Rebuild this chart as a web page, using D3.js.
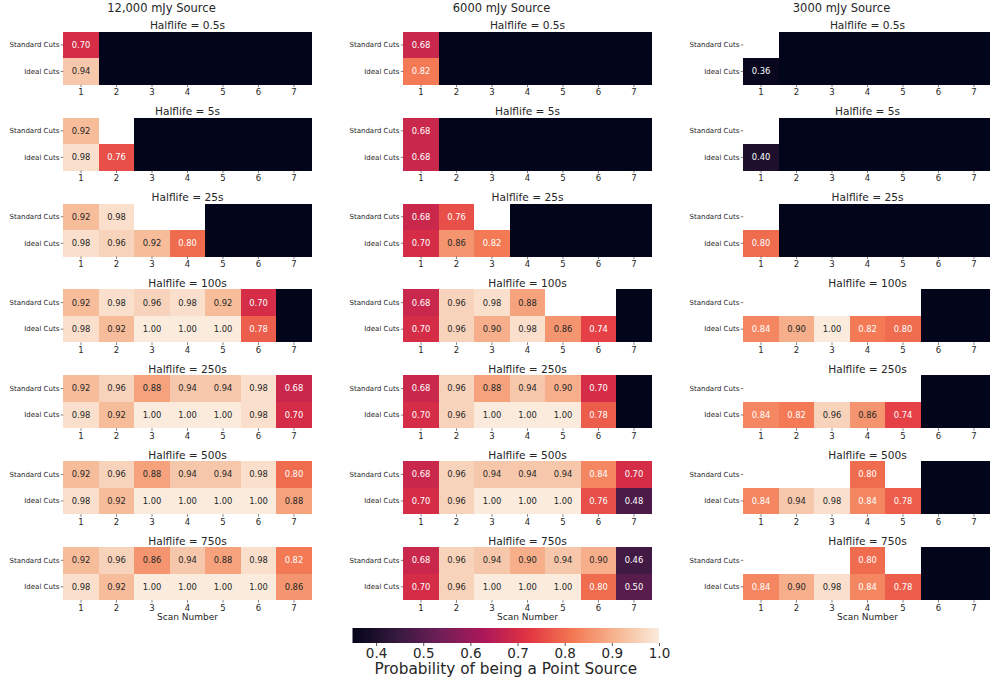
<!DOCTYPE html>
<html><head><meta charset="utf-8">
<script src="https://cdn.jsdelivr.net/npm/d3@7"></script>
<style>body{margin:0;background:#fff}svg{display:block;font-family:"DejaVu Sans",sans-serif}</style>
</head><body><svg id="chart" width="990" height="685"></svg>
<script>
// ---------- data ----------
const scans = [1, 2, 3, 4, 5, 6, 7];
const cutLabels = ["Standard Cuts", "Ideal Cuts"];
const halflives = ["0.5s", "5s", "25s", "100s", "250s", "500s", "750s"];
const sources = ["12,000 mJy Source", "6000 mJy Source", "3000 mJy Source"];
const cbTicks = [0.4, 0.5, 0.6, 0.7, 0.8, 0.9, 1.0];
const vmin = 0.35, vmax = 1.0;
// null = no value (blank), 0 = no detection (darkest colour)
const src12000Std = [
  [0.70, 0, 0, 0, 0, 0, 0],
  [0.92, null, 0, 0, 0, 0, 0],
  [0.92, 0.98, null, null, 0, 0, 0],
  [0.92, 0.98, 0.96, 0.98, 0.92, 0.70, 0],
  [0.92, 0.96, 0.88, 0.94, 0.94, 0.98, 0.68],
  [0.92, 0.96, 0.88, 0.94, 0.94, 0.98, 0.80],
  [0.92, 0.96, 0.86, 0.94, 0.88, 0.98, 0.82]
];
const src12000Ideal = [
  [0.94, 0, 0, 0, 0, 0, 0],
  [0.98, 0.76, 0, 0, 0, 0, 0],
  [0.98, 0.96, 0.92, 0.80, 0, 0, 0],
  [0.98, 0.92, 1.00, 1.00, 1.00, 0.78, 0],
  [0.98, 0.92, 1.00, 1.00, 1.00, 0.98, 0.70],
  [0.98, 0.92, 1.00, 1.00, 1.00, 1.00, 0.88],
  [0.98, 0.92, 1.00, 1.00, 1.00, 1.00, 0.86]
];
const src6000Std = [
  [0.68, 0, 0, 0, 0, 0, 0],
  [0.68, 0, 0, 0, 0, 0, 0],
  [0.68, 0.76, null, 0, 0, 0, 0],
  [0.68, 0.96, 0.98, 0.88, null, null, 0],
  [0.68, 0.96, 0.88, 0.94, 0.90, 0.70, 0],
  [0.68, 0.96, 0.94, 0.94, 0.94, 0.84, 0.70],
  [0.68, 0.96, 0.94, 0.90, 0.94, 0.90, 0.46]
];
const src6000Ideal = [
  [0.82, 0, 0, 0, 0, 0, 0],
  [0.68, 0, 0, 0, 0, 0, 0],
  [0.70, 0.86, 0.82, 0, 0, 0, 0],
  [0.70, 0.96, 0.90, 0.98, 0.86, 0.74, 0],
  [0.70, 0.96, 1.00, 1.00, 1.00, 0.78, 0],
  [0.70, 0.96, 1.00, 1.00, 1.00, 0.76, 0.48],
  [0.70, 0.96, 1.00, 1.00, 1.00, 0.80, 0.50]
];
const src3000Std = [
  [null, 0, 0, 0, 0, 0, 0],
  [null, 0, 0, 0, 0, 0, 0],
  [null, 0, 0, 0, 0, 0, 0],
  [null, null, null, null, null, 0, 0],
  [null, null, null, null, null, 0, 0],
  [null, null, null, 0.80, null, 0, 0],
  [null, null, null, 0.80, null, 0, 0]
];
const src3000Ideal = [
  [0.36, 0, 0, 0, 0, 0, 0],
  [0.40, 0, 0, 0, 0, 0, 0],
  [0.80, 0, 0, 0, 0, 0, 0],
  [0.84, 0.90, 1.00, 0.82, 0.80, 0, 0],
  [0.84, 0.82, 0.96, 0.86, 0.74, 0, 0],
  [0.84, 0.94, 0.98, 0.84, 0.78, 0, 0],
  [0.84, 0.90, 0.98, 0.84, 0.78, 0, 0]
];
const sourceStd = [src12000Std, src6000Std, src3000Std];
const sourceIdeal = [src12000Ideal, src6000Ideal, src3000Ideal];

// rocket colormap (seaborn) key colours
const rocketStops = [0, 1/7, 2/7, 3/7, 4/7, 5/7, 6/7, 1];
const rocketColors = ["#03051a", "#35193e", "#701f57", "#ad1759", "#e13342", "#f37651", "#f6b48f", "#faebdd"];
const rocket = d3.scaleLinear().domain(rocketStops).range(rocketColors).interpolate(d3.interpolateRgb).clamp(true);
const norm = d3.scaleLinear().domain([vmin, vmax]).range([0, 1]).clamp(true);
const color = v => rocket(norm(v));

function lum(c) {
  const r = d3.rgb(c);
  const f = x => { x /= 255; return x <= 0.03928 ? x / 12.92 : Math.pow((x + 0.055) / 1.055, 2.4); };
  return 0.2126 * f(r.r) + 0.7152 * f(r.g) + 0.0722 * f(r.b);
}

// ---------- layout ----------
const svg = d3.select("#chart");
const colX = [63.3, 403.3, 743.3];
const hmW = 248.4, hmH = 53;
const rowY0 = 31.7, rowStep = 85.9;
const ink = "#262626";

sources.forEach((src, ci) => {
  const x0 = colX[ci];
  const x = d3.scaleBand().domain(scans).range([x0, x0 + hmW]);
  svg.append("text").attr("x", x0 + hmW / 2 - 26).attr("y", 12.4)
    .attr("text-anchor", "middle").attr("font-size", 11.5).attr("fill", ink).text(src);

  halflives.forEach((hl, ri) => {
    const y0 = rowY0 + ri * rowStep;
    const y = d3.scaleBand().domain(cutLabels).range([y0, y0 + hmH]);
    const g = svg.append("g").attr("shape-rendering", "crispEdges");
    const cells = [];
    [sourceStd[ci][ri], sourceIdeal[ci][ri]].forEach((row, k) => {
      row.forEach((v, j) => { if (v !== null) cells.push({cut: cutLabels[k], scan: scans[j], v}); });
    });
    g.selectAll("rect").data(cells).join("rect")
      .attr("x", d => Math.round(x(d.scan)))
      .attr("y", d => Math.round(y(d.cut)))
      .attr("width", d => Math.round(x(d.scan) + x.bandwidth()) - Math.round(x(d.scan)))
      .attr("height", d => Math.round(y(d.cut) + y.bandwidth()) - Math.round(y(d.cut)))
      .attr("fill", d => color(d.v));
    svg.append("g").selectAll("text").data(cells.filter(d => d.v > 0)).join("text")
      .attr("x", d => x(d.scan) + x.bandwidth() / 2)
      .attr("y", d => y(d.cut) + y.bandwidth() / 2)
      .attr("dy", "0.35em").attr("text-anchor", "middle").attr("font-size", 8.4)
      .attr("fill", d => lum(color(d.v)) > 0.408 ? ink : "#fff")
      .text(d => d3.format(".2f")(d.v));

    svg.append("text").attr("x", x0 + hmW / 2).attr("y", y0 - 2.6)
      .attr("text-anchor", "middle").attr("font-size", 10.6).attr("fill", ink).text("Halflife = " + hl);

    const ay = svg.append("g").attr("transform", `translate(${x0},0)`)
      .call(d3.axisLeft(y).tickSize(2.5).tickPadding(1.5));
    ay.select(".domain").remove();
    ay.selectAll("text").attr("font-size", 7).attr("fill", ink).attr("font-family", "DejaVu Sans");
    ay.selectAll("line").attr("stroke", ink).attr("stroke-width", 0.6);

    const ax = svg.append("g").attr("transform", `translate(0,${y0 + hmH})`)
      .call(d3.axisBottom(x).tickSize(2.5).tickPadding(2));
    ax.select(".domain").remove();
    ax.selectAll("text").attr("font-size", 8.5).attr("fill", ink).attr("font-family", "DejaVu Sans");
    ax.selectAll("line").attr("stroke", ink).attr("stroke-width", 0.6);
  });

  svg.append("text").attr("x", x0 + hmW / 2).attr("y", 619.5)
    .attr("text-anchor", "middle").attr("font-size", 9).attr("fill", ink).text("Scan Number");
});

// ---------- colorbar ----------
const cbX0 = 352.5, cbX1 = 659, cbY = 628, cbH = 15;
const cbScale = d3.scaleLinear().domain([vmin, vmax]).range([cbX0, cbX1]);
const defs = svg.append("defs");
const grad = defs.append("linearGradient").attr("id", "cbgrad").attr("x1", "0%").attr("x2", "100%");
d3.range(0, 1.0001, 0.02).forEach(t => {
  grad.append("stop").attr("offset", (t * 100) + "%").attr("stop-color", rocket(t));
});
svg.append("rect").attr("x", cbX0).attr("y", cbY).attr("width", cbX1 - cbX0).attr("height", cbH)
  .attr("fill", "url(#cbgrad)");
const cbAxis = svg.append("g").attr("transform", `translate(0,${cbY + cbH})`)
  .call(d3.axisBottom(cbScale).tickValues(cbTicks).tickFormat(d3.format(".1f")).tickSize(3).tickPadding(2));
cbAxis.select(".domain").remove();
cbAxis.selectAll("text").attr("font-size", 13.5).attr("fill", ink).attr("font-family", "DejaVu Sans");
cbAxis.selectAll("line").attr("stroke", ink).attr("stroke-width", 0.8);
svg.append("text").attr("x", (cbX0 + cbX1) / 2).attr("y", 673.5)
  .attr("text-anchor", "middle").attr("font-size", 15.3).attr("fill", ink)
  .text("Probability of being a Point Source");
</script></body></html>
